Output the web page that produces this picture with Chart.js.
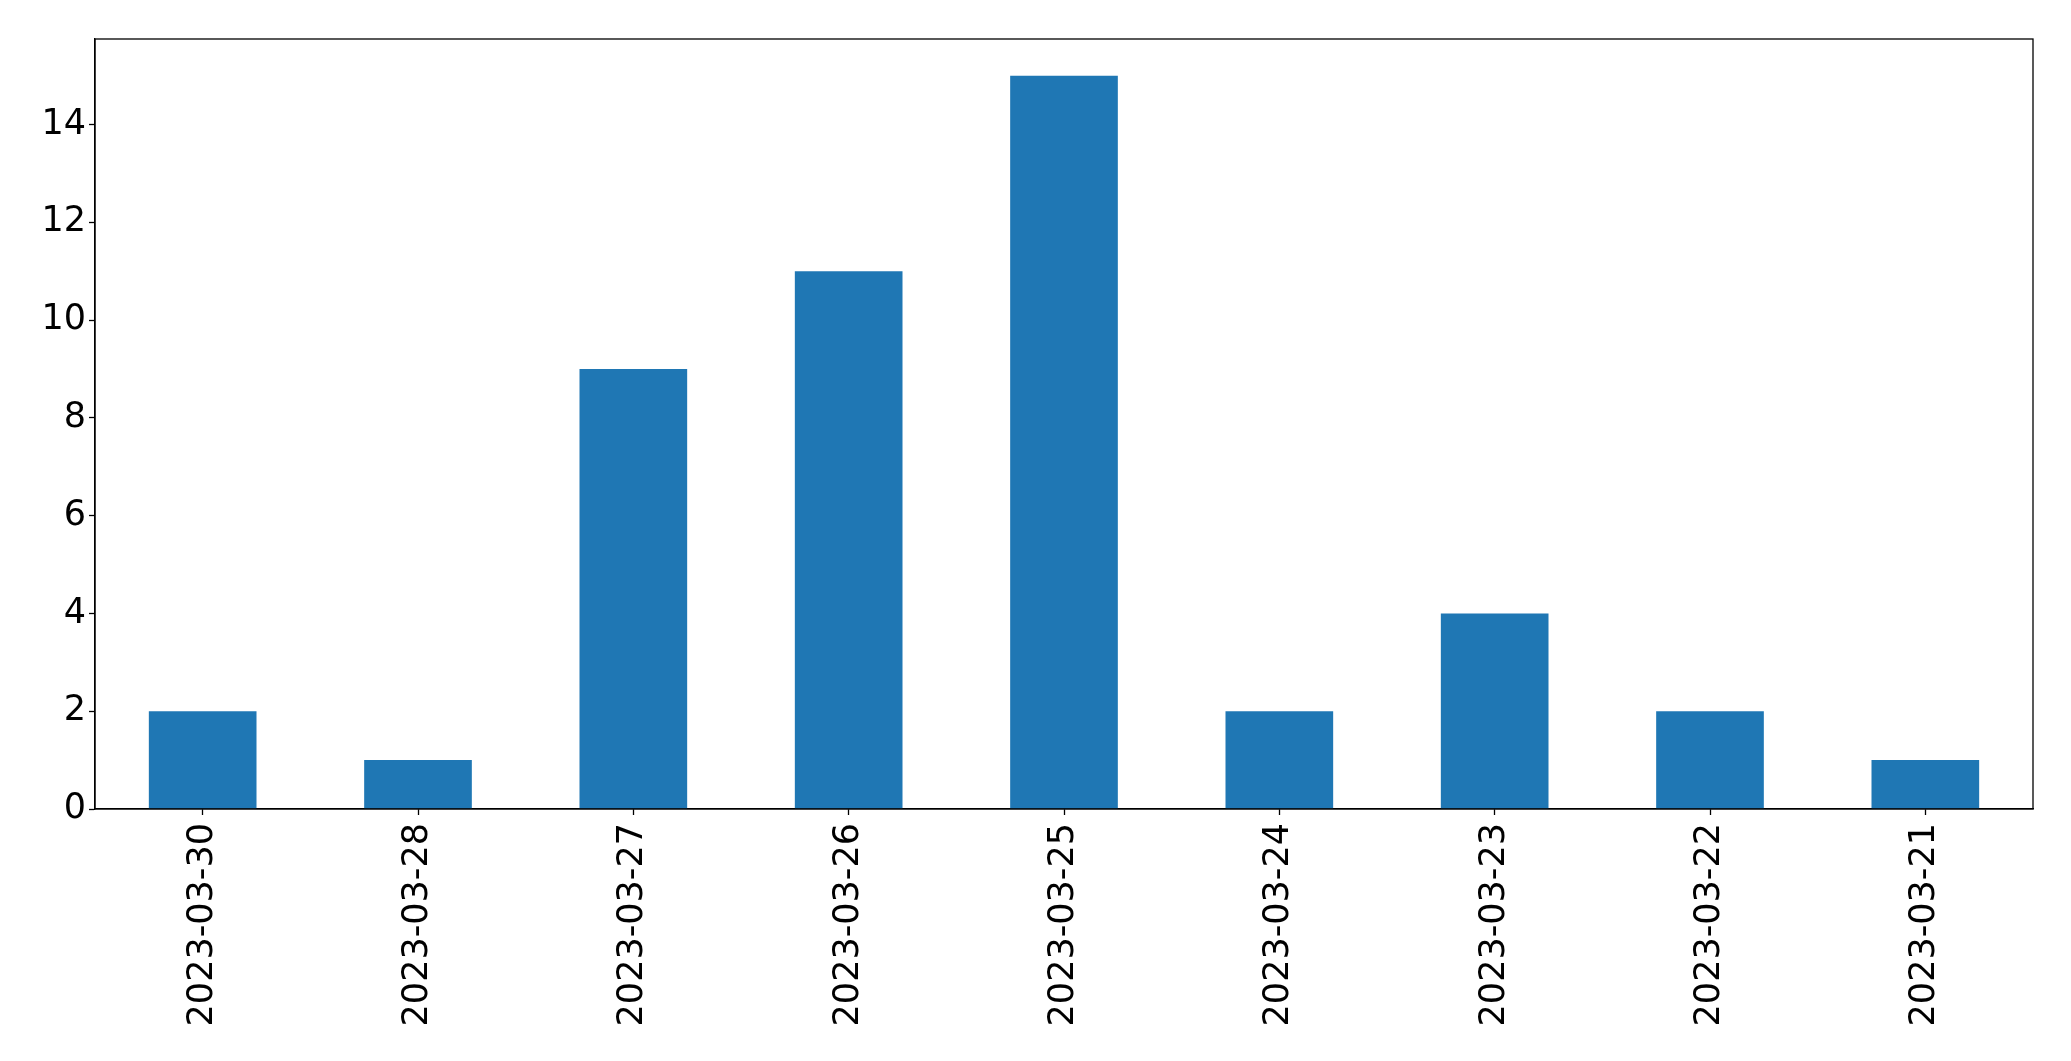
<!DOCTYPE html>
<html>
<head>
<meta charset="utf-8">
<script src="https://cdn.jsdelivr.net/npm/chart.js@4/dist/chart.umd.min.js"></script>
<style>
  html, body { margin: 0; padding: 0; background: #fff; }
  #wrap { width: 2071px; height: 1061px; }
</style>
</head>
<body>
<div id="wrap"><canvas id="chart" width="2071" height="1061"></canvas></div>
<script>
const dates = ["2023-03-30", "2023-03-28", "2023-03-27", "2023-03-26", "2023-03-25",
               "2023-03-24", "2023-03-23", "2023-03-22", "2023-03-21"];
const counts = [2, 1, 9, 11, 15, 2, 4, 2, 1];
const yTicks = [0, 2, 4, 6, 8, 10, 12, 14];
const yMax = 15.75;

// box around the plot area (top/right spines)
const frame = {
  id: "frame",
  afterDraw(chart) {
    const a = chart.chartArea;
    const ctx = chart.ctx;
    ctx.save();
    ctx.strokeStyle = "#000";
    ctx.lineWidth = 1.3;
    ctx.strokeRect(a.left, a.top, a.right - a.left, a.bottom - a.top);
    ctx.restore();
  }
};

const font = { family: "'DejaVu Sans', sans-serif", size: 35 };

new Chart(document.getElementById("chart"), {
  type: "bar",
  data: {
    labels: dates,
    datasets: [{
      data: counts,
      backgroundColor: "#1f77b4",
      barPercentage: 0.5,
      categoryPercentage: 1.0,
    }],
  },
  options: {
    responsive: false,
    animation: false,
    layout: { padding: { left: 0, top: 39, right: 38, bottom: 0 } },
    plugins: { legend: { display: false }, tooltip: { enabled: false } },
    scales: {
      x: {
        offset: true,
        grid: { display: true, offset: false, drawOnChartArea: false, drawTicks: true, tickLength: 6, tickColor: "#000", tickWidth: 1.3 },
        border: { display: true, color: "#000", width: 1.3 },
        ticks: { color: "#000", font: font, minRotation: 90, maxRotation: 90, padding: 8, autoSkip: false },
        afterFit(axis) { axis.height = 252; },
      },
      y: {
        min: 0,
        max: yMax,
        grid: { display: true, drawOnChartArea: false, drawTicks: true, tickLength: 6, tickColor: "#000", tickWidth: 1.3 },
        border: { display: true, color: "#000", width: 1.3 },
        ticks: { color: "#000", font: font, padding: 3 },
        afterBuildTicks(axis) { axis.ticks = yTicks.map(v => ({ value: v })); },
        afterFit(axis) { axis.width = 95; },
      },
    },
  },
  plugins: [frame],
});
</script>
</body>
</html>
